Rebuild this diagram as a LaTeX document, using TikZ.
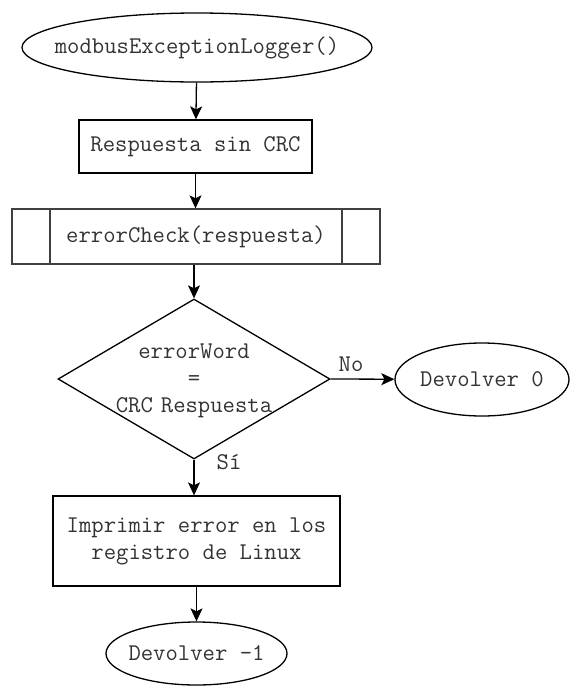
\documentclass[tikz,border=0pt]{standalone}
\usepackage{fontspec}
\usetikzlibrary{shapes.geometric,arrows.meta}
\tikzset{
  base/.style={draw=black, line width=1.3pt, inner sep=0pt, font=\ttfamily\fontsize{24}{27}\selectfont, align=center, text=black!80},
  term/.style={base, ellipse},
  proc/.style={base, rectangle},
  dec/.style={base, diamond},
  lbl/.style={font=\ttfamily\fontsize{24}{27}\selectfont, text=black!80, inner sep=0pt},
  conn/.style={line width=1.3pt, -{Stealth[length=13pt,width=12pt,inset=3pt]}},
}
\newcommand{\zb}[1]{\makebox[0pt]{#1}}
\begin{document}
\begin{tikzpicture}[x=1pt,y=-1pt]
\useasboundingbox (0,0) rectangle (571,686);
\node[term, minimum width=350pt, minimum height=69pt] (start) at (197,47.5) {\zb{modbusExceptionLogger()}};
\node[proc, minimum width=233pt, minimum height=53pt] (resp) at (195.5,146.5) {Respuesta sin CRC};
\node[proc, minimum width=368pt, minimum height=55pt, draw=black!75] (chk) at (196,236.5) {errorCheck(respuesta)};
\draw[line width=1.3pt, black!75] (50,209) -- (50,264) (342,209) -- (342,264);
\node[dec, minimum width=272pt, minimum height=160pt] (dec) at (194,379) {};
\node[lbl, align=center, text width=200pt] (dectext) at (194,381) {errorWord\\=\\CRC Respuesta};
\node[term, minimum width=174pt, minimum height=73pt] (ret0) at (482,379.5) {\zb{Devolver 0}};
\node[proc, minimum width=287pt, minimum height=90pt] (print) at (196.5,541) {Imprimir error en los\\registro de Linux};
\node[term, minimum width=181pt, minimum height=63pt] (ret1) at (196.5,653.5) {\zb{Devolver -1}};
\draw[conn] (start) -- (resp);
\draw[conn] (resp) -- (resp |- chk.north);
\draw[conn] (chk.south -| dec.north) -- (dec.north);
\draw[conn] (dec.east) -- (ret0);
\draw[conn] (dec.south) -- (dec.south |- print.north);
\draw[conn] (print.south -| ret1.north) -- (ret1.north);
\node[lbl] (no) at (351,364) {No};
\node[lbl] (si) at (229,462) {Sí};
\end{tikzpicture}
\end{document}
